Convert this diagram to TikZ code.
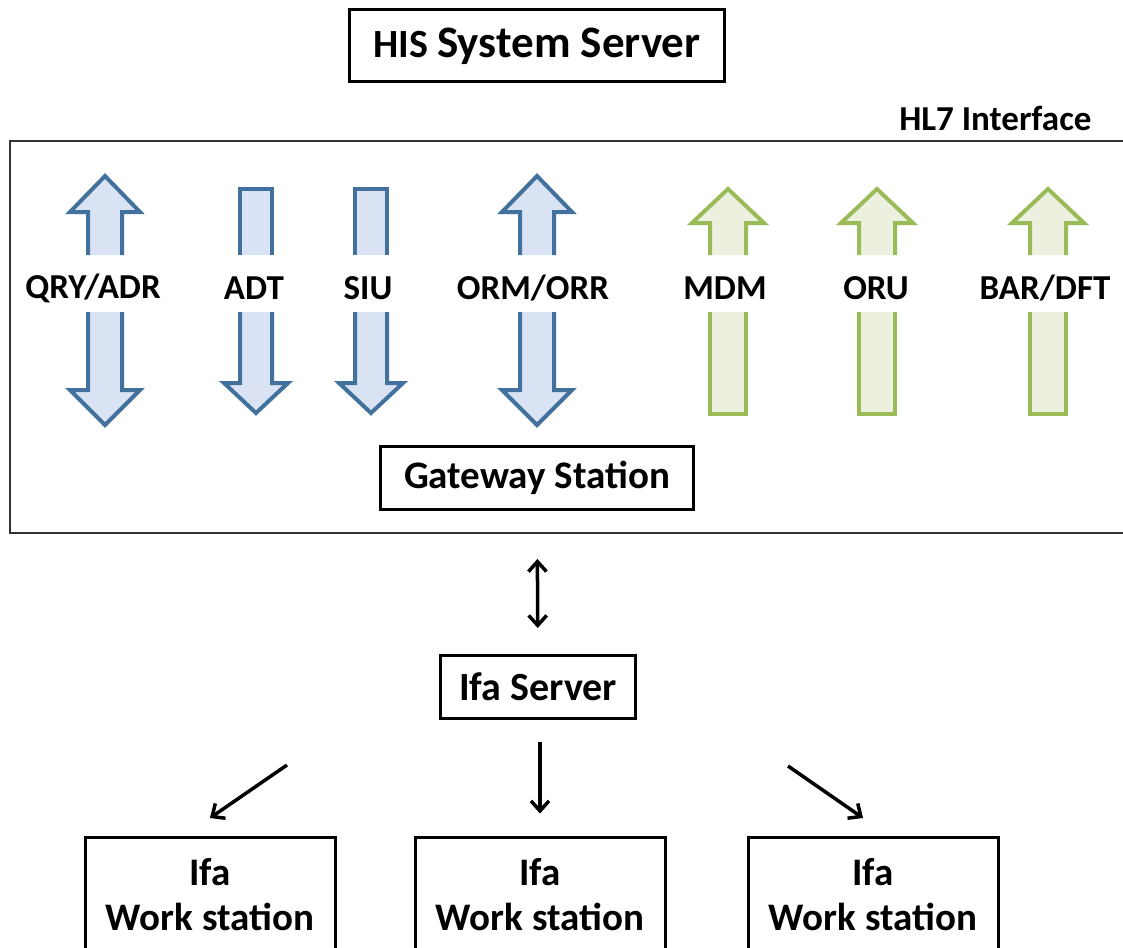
\documentclass[tikz,border=0pt]{standalone}
\usepackage{fontspec}
\setmainfont{Carlito}
\usetikzlibrary{arrows.meta}
\definecolor{blueedge}{HTML}{41719C}
\definecolor{bluearea}{HTML}{DAE3F3}
\definecolor{greenedge}{HTML}{9BBB59}
\definecolor{greenarea}{HTML}{EBF1DE}
\tikzset{box/.style={draw, line width=3pt, fill=white, align=center, inner sep=0pt},
	msg/.style={font=\bfseries\fontsize{35}{35}\selectfont},
	blueshape/.style={draw=blueedge, fill=bluearea, line width=4pt, line join=miter},
	greenshape/.style={draw=greenedge, fill=greenarea, line width=4pt, line join=miter},
	link/.style={line width=3.5pt, {Straight Barb[length=10pt,width=18pt,line width=3.5pt]}-{Straight Barb[length=10pt,width=18pt,line width=3.5pt]}},
	onelink/.style={line width=3.5pt, -{Straight Barb[length=10pt,width=18pt,line width=3.5pt]}}}

\begin{document}
\begin{tikzpicture}[x=1pt,y=-1pt]
		\useasboundingbox (0,0) rectangle (1123,947);
		% HIS server and HL7 frame
		\node[box, minimum width=375pt, minimum height=72pt] (his) at (537,46)
			{\bfseries\fontsize{40}{40}\selectfont HIS \fontsize{45}{45}\selectfont System Server};
		\node[anchor=east, font=\bfseries\fontsize{35}{35}\selectfont] (hl7) at (1095,118) {HL7 Interface};
		\draw[line width=1.5pt, draw=black!80] (10,141) rectangle (1140,533);
		
		% messages going both ways
		\foreach \c in {105,537} {
			\filldraw[blueshape] ({\c-17},255) -- ({\c-17},212) -- ({\c-35},212) -- (\c,176)
				-- ({\c+35},212) -- ({\c+17},212) -- ({\c+17},255);
			\filldraw[blueshape] ({\c-17},312) -- ({\c-17},390) -- ({\c-35},390) -- (\c,425)
				-- ({\c+35},390) -- ({\c+17},390) -- ({\c+17},312);
		}
		% messages going down
		\foreach \c in {256,371} {
			\filldraw[blueshape] ({\c-16},255) -- ({\c-16},189) -- ({\c+16},189) -- ({\c+16},255);
			\filldraw[blueshape] ({\c-16},312) -- ({\c-16},383) -- ({\c-32},383) -- (\c,413)
				-- ({\c+32},383) -- ({\c+16},383) -- ({\c+16},312);
		}
		% messages going up
		\foreach \c in {728,877,1048} {
			\filldraw[greenshape] ({\c-18},255) -- ({\c-18},223) -- ({\c-36},223) -- (\c,189)
				-- ({\c+36},223) -- ({\c+18},223) -- ({\c+18},255);
			\filldraw[greenshape] ({\c-18},312) -- ({\c-18},414) -- ({\c+18},414) -- ({\c+18},312);
		}
		\node[msg] (qry) at (93,288) {QRY/ADR};
		\node[msg] (adt) at (254,288) {ADT};
		\node[msg] (siu) at (368,288) {SIU};
		\node[msg] (orm) at (533,288) {ORM/ORR};
		\node[msg] (mdm) at (725,288) {MDM};
		\node[msg] (oru) at (876,288) {ORU};
		\node[msg] (bar) at (1045,288) {BAR/DFT};
		
		% stations
		\node[box, minimum width=313pt, minimum height=63pt, font=\bfseries\fontsize{39}{39}\selectfont] (gw) at (537,478) {Gateway Station};
		\node[box, minimum width=195pt, minimum height=63pt, font=\bfseries\fontsize{40}{40}\selectfont] (ifa) at (538,687) {Ifa Server};
		\foreach \x/\n in {210/ws1,540/ws2,873/ws3}
			\node[box, minimum width=250pt, minimum height=116pt, font=\bfseries\fontsize{39}{45}\selectfont] (\n) at (\x,895) {Ifa\\Work station};
		
		\draw[link, shorten <=48pt, shorten >=26pt] (gw) -- (ifa);
		\draw[onelink, shorten <=22pt, shorten >=22pt] (ifa.south -| ws2) -- (ws2);
		\coordinate (l1) at (287,765);
		\coordinate (l2) at (210,818);
		\coordinate (r1) at (788,766);
		\coordinate (r2) at (863,818);
		\draw[onelink] (l1) -- (l2);
		\draw[onelink] (r1) -- (r2);
\end{tikzpicture}
\end{document}
